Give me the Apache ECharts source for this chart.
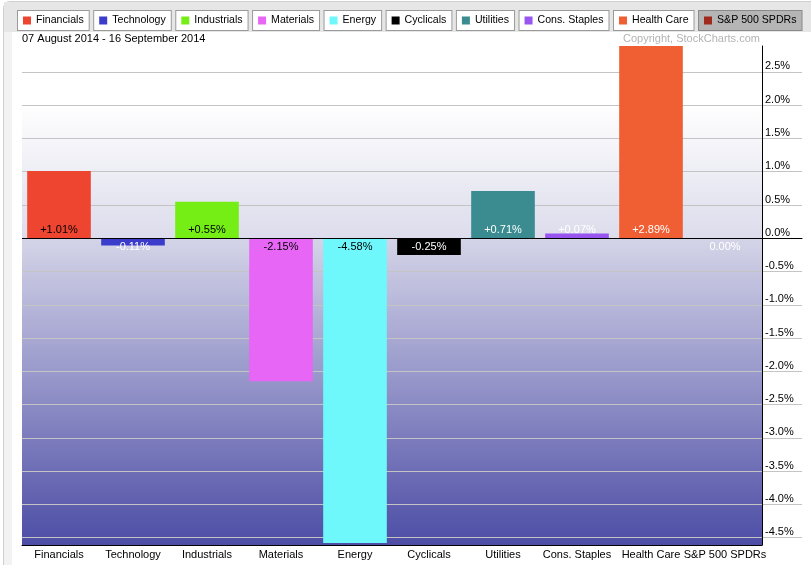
<!DOCTYPE html>
<html>
<head>
<meta charset="utf-8">
<title>Sector performance</title>
<script src="https://cdn.jsdelivr.net/npm/echarts@6/dist/echarts.min.js"></script>
<style>
  html, body { margin: 0; padding: 0; background: #fff; }
  #chart { width: 811px; height: 565px; }
</style>
</head>
<body>
<div id="chart"></div>
<script>
const categories = ['Financials', 'Technology', 'Industrials', 'Materials', 'Energy',
  'Cyclicals', 'Utilities', 'Cons. Staples', 'Health Care', 'S&P 500 SPDRs'];
const changes = [1.01, -0.11, 0.55, -2.15, -4.58, -0.25, 0.71, 0.07, 2.89, 0.00];
const dateRange = '07 August 2014 - 16 September 2014';

// estilos por sector
const colors = ['#ee4530', '#3b3bcc', '#74ee15', '#e866f5', '#6ef8fc',
  '#000000', '#3a8c90', '#9955f0', '#f05e33', '#a02a1e'];
const labelColors = ['#000', '#fff', '#000', '#000', '#000',
  '#fff', '#fff', '#fff', '#fff', '#fff'];

const font = '"Liberation Sans", Arial, sans-serif';
const yMin = Math.min(...changes) - 0.03;
const yMax = Math.max(...changes);
const zeroFrac = yMax / (yMax - yMin);

const fmtPct = v => (v > 0 ? '+' : '') + v.toFixed(2) + '%';

let rich = { g: { width: 5 } };
colors.forEach((c, i) => {
  rich['s' + i] = { width: 8, height: 8, backgroundColor: c };
});

const series = categories.map((name, i) => ({
  name: name,
  type: 'bar',
  stack: 'all',
  barCategoryGap: '14%',
  itemStyle: { color: colors[i] },
  data: categories.map((c, j) => (j === i ? changes[i] : '-')),
  label: {
    show: true,
    position: changes[i] > 0 ? 'insideBottom' : 'insideTop',
    distance: 3,
    color: labelColors[i],
    fontSize: 11,
    fontFamily: font,
    formatter: p => fmtPct(p.value)
  },
  markLine: i === 0 ? {
    silent: true,
    symbol: 'none',
    label: { show: false },
    lineStyle: { color: '#000', width: 1, type: 'solid' },
    data: [{ yAxis: 0 }]
  } : undefined
}));

const chartDom = document.getElementById('chart');
const myChart = echarts.init(chartDom);

myChart.setOption({
  animation: false,
  textStyle: { fontFamily: font },
  graphic: [
    { type: 'rect', z: -10, shape: { x: 3.5, y: 1.5, width: 820, height: 570, r: 6 },
      style: { fill: '#f2f2f2', stroke: '#cfcfcf', lineWidth: 1 } },
    { type: 'rect', z: -9, shape: { x: 4, y: 2, width: 807, height: 30 },
      style: { fill: '#e6e6e6' } },
    { type: 'rect', z: -9, shape: { x: 12, y: 32, width: 799, height: 533 },
      style: { fill: '#ffffff' } }
  ],
  title: [
    { text: dateRange, left: 22, top: 33, padding: 0,
      textStyle: { fontSize: 11, fontWeight: 'normal', color: '#000', fontFamily: font } },
    { text: 'Copyright, StockCharts.com', left: 623, top: 33, padding: 0,
      textStyle: { fontSize: 11, fontWeight: 'normal', color: '#b3b3b3', fontFamily: font } }
  ],
  legend: {
    left: 13,
    top: 10,
    width: 811,
    padding: 0,
    itemGap: -0.5,
    itemWidth: 0,
    itemHeight: 0,
    selectedMode: false,
    formatter: name => '{s' + categories.indexOf(name) + '|}{g|}' + name,
    textStyle: {
      fontSize: 10.6,
      fontFamily: font,
      color: '#000',
      lineHeight: 13,
      backgroundColor: '#fff',
      borderColor: '#9a9a9a',
      borderWidth: 1,
      padding: [3, 5, 3, 5],
      rich: rich
    },
    data: categories.map((name, i) => i === categories.length - 1
      ? { name: name, textStyle: { backgroundColor: '#b5b5b5', borderColor: '#8a8a8a' } }
      : { name: name })
  },
  grid: [
    {
      left: 22, right: 49, top: 46, bottom: 20,
      show: true, borderWidth: 0,
      backgroundColor: new echarts.graphic.LinearGradient(0, 0, 0, 1, [
        { offset: 0, color: '#ffffff' },
        { offset: zeroFrac * 0.3, color: '#ffffff' },
        { offset: zeroFrac, color: '#dcdcec' },
        { offset: Math.min(zeroFrac + 0.001, 1), color: '#d4d4e8' },
        { offset: 1, color: '#4d4da6' }
      ])
    },
    { left: 762, right: 9, top: 46, bottom: 20 }
  ],
  xAxis: [
    {
      type: 'category',
      gridIndex: 0,
      data: categories,
      position: 'bottom',
      axisLine: { onZero: false, lineStyle: { color: '#000', width: 1 } },
      axisTick: { show: false },
      axisLabel: { interval: 0, margin: 4, fontSize: 11, color: '#000', fontFamily: font }
    },
    {
      type: 'value',
      gridIndex: 1,
      min: 0, max: 1,
      axisLine: { show: true, onZero: true, lineStyle: { color: '#000', width: 1 } },
      axisTick: { show: false },
      axisLabel: { show: false },
      splitLine: { show: false }
    }
  ],
  yAxis: [
    {
      type: 'value',
      gridIndex: 0,
      position: 'right',
      min: yMin, max: yMax,
      splitNumber: 15,
      minInterval: 0.5,
      maxInterval: 0.5,
      axisLine: { show: true, lineStyle: { color: '#000', width: 1 } },
      axisTick: { show: false },
      axisLabel: {
        margin: 3,
        fontSize: 11,
        color: '#000',
        fontFamily: font,
        verticalAlign: 'bottom',
        showMinLabel: false,
        showMaxLabel: false,
        formatter: v => v.toFixed(1) + '%'
      },
      splitLine: { show: true, showMinLine: false, showMaxLine: false,
        lineStyle: { color: '#c4c4c4', width: 1 } }
    },
    {
      type: 'value',
      gridIndex: 1,
      min: yMin, max: yMax,
      splitNumber: 15,
      minInterval: 0.5,
      maxInterval: 0.5,
      axisLine: { show: false },
      axisTick: { show: false },
      axisLabel: { show: false },
      splitLine: { show: true, showMinLine: false, showMaxLine: false,
        lineStyle: { color: '#c4c4c4', width: 1 } }
    }
  ],
  series: series
});
</script>
</body>
</html>
